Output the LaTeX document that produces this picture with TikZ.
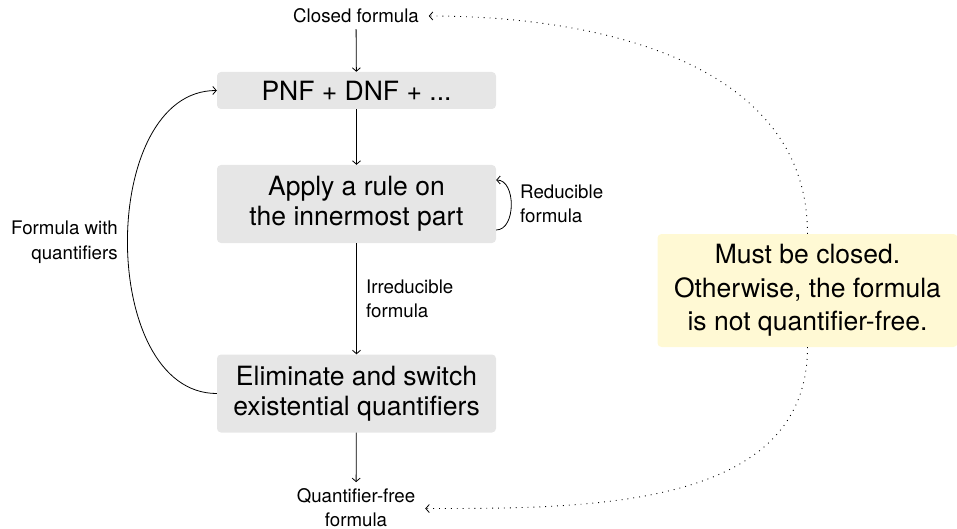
\documentclass[tikz,border=0pt]{standalone}
\usepackage{fontspec}
\setmainfont{TeX Gyre Heros}
\usetikzlibrary{arrows.meta}
\definecolor{boxgray}{RGB}{230,230,230}
\definecolor{noteyellow}{RGB}{255,249,212}
\begin{document}
\begin{tikzpicture}[x=1pt,y=-1pt,
  flowbox/.style={fill=boxgray,rounded corners=4pt,inner sep=0pt,minimum width=279pt,align=center,font=\fontsize{26.5}{30}\selectfont},
  notebox/.style={fill=noteyellow,rounded corners=4pt,inner sep=0pt,minimum width=300pt,minimum height=113pt,align=center,font=\fontsize{26.5}{33.5}\selectfont},
  lbl/.style={font=\fontsize{18.7}{24.5}\selectfont,inner sep=0pt},
  endlbl/.style={lbl,outer sep=6pt},
  conn/.style={line width=0.8pt,-{Straight Barb[length=3.5pt,width=8pt]}},
  dotconn/.style={line width=0.9pt,-{Straight Barb[length=3.5pt,width=8pt,line width=0.8pt]},dash pattern=on 0.9pt off 5pt}]
\useasboundingbox (0,0) rectangle (957,529);
\node[endlbl] (cf) at (356,16) {Closed formula};
\node[flowbox,minimum height=37pt] (b1) at (356.5,90.5) {PNF + DNF + ...};
\node[flowbox,minimum height=78pt] (b2) at (356.5,204) {Apply a rule on\\the innermost part};
\node[flowbox,minimum height=78pt] (b3) at (356.5,393.5) {Eliminate and switch\\existential quantifiers};
\node[endlbl,align=center] (qf) at (356,507.5) {Quantifier-free\\formula};
\node[lbl,align=left,anchor=west] (red) at (520,204) {Reducible\\formula};
\node[lbl,align=left,anchor=west] (irr) at (366,299) {Irreducible\\formula};
\node[lbl,align=right,anchor=east] (fwq) at (118,242) {Formula with\\quantifiers};
\node[notebox] (note) at (807.5,290.5) {Must be closed.\\Otherwise, the formula\\is not quantifier-free.};
\draw[conn] (cf) -- (b1);
\draw[conn] (b1) -- (b2);
\draw[conn] (b2) -- (b3);
\draw[conn] (b3) -- (qf);
\draw[conn] ([yshift=-26pt]b2.east) .. controls +(20,0) and +(20,0) .. ([yshift=24pt]b2.east);
\draw[conn] (b3.west) .. controls +(-119,0) and +(-119,0) .. (b1.west);
\draw[dotconn] (note.north) to[out=90,in=0] ([xshift=4pt]cf.east);
\draw[dotconn] (note.south) to[out=-90,in=0] ([xshift=4pt,yshift=-1pt]qf.east);
\end{tikzpicture}
\end{document}
